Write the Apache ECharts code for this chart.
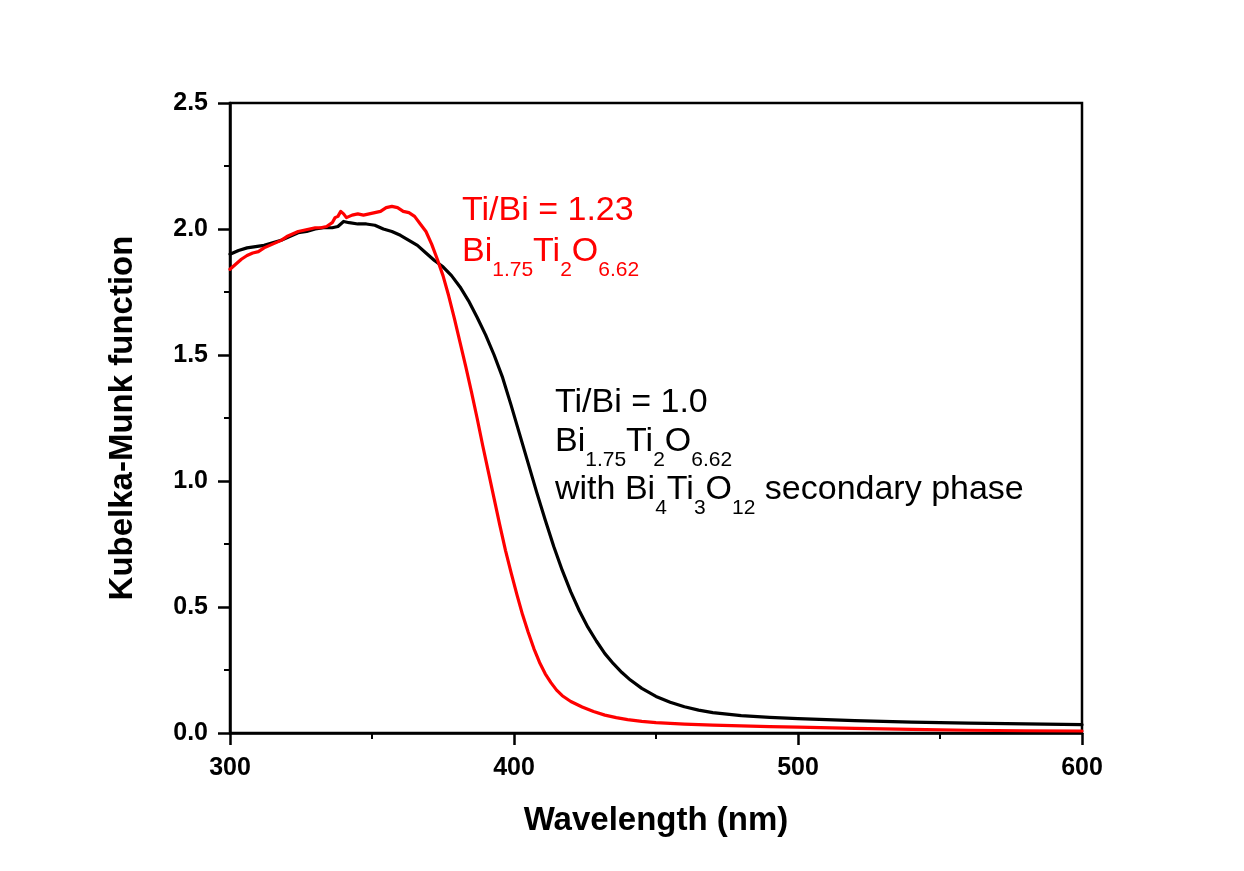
<!DOCTYPE html>
<html>
<head>
<meta charset="utf-8">
<script src="https://cdn.jsdelivr.net/npm/echarts@6/dist/echarts.min.js"></script>
<style>
html,body{margin:0;padding:0;background:#fff;}
#chart{width:1244px;height:871px;}
</style>
</head>
<body>
<div id="chart"></div>
<script>
// Wavelength (nm), Kubelka-Munk value pairs
const blackWavelength = [300,303,306,309,312,315,318,321,324,327,330,333,336,338,340,342,345,348,351,354,357,360,363,366,369,372,375,378,381,384,387,390,393,396,399,402,405,408,411,414,417,420,423,426,429,432,435,438,441,445,450,455,460,465,470,480,490,500,520,540,560,580,600];
const blackKM = [1.90,1.915,1.925,1.93,1.935,1.945,1.955,1.97,1.985,1.99,2.00,2.005,2.005,2.01,2.03,2.025,2.02,2.02,2.015,2.00,1.99,1.975,1.955,1.935,1.905,1.875,1.85,1.815,1.77,1.715,1.65,1.58,1.50,1.41,1.30,1.185,1.07,0.955,0.845,0.74,0.645,0.56,0.485,0.42,0.365,0.315,0.275,0.24,0.21,0.177,0.145,0.122,0.104,0.091,0.081,0.069,0.062,0.057,0.049,0.043,0.039,0.036,0.033];

const redWavelength = [300,302,304,306,308,310,312,314,316,318,320,322,324,326,328,330,332,334,336,337,338,339,340,341,343,345,347,349,351,353,355,357,359,361,363,365,367,369,371,373,375,377,379,381,383,385,387,389,391,393,395,397,399,401,403,405,407,409,411,413,415,417,420,424,428,432,436,440,445,450,460,470,480,490,500,520,540,560,580,600];
const redKM = [1.84,1.86,1.88,1.895,1.905,1.91,1.925,1.935,1.945,1.955,1.97,1.98,1.99,1.995,2.00,2.005,2.005,2.01,2.025,2.045,2.05,2.07,2.06,2.045,2.055,2.06,2.055,2.06,2.065,2.07,2.085,2.09,2.085,2.07,2.065,2.05,2.02,1.99,1.94,1.88,1.815,1.735,1.645,1.55,1.455,1.355,1.25,1.14,1.035,0.93,0.825,0.725,0.635,0.55,0.47,0.40,0.335,0.28,0.235,0.20,0.17,0.148,0.125,0.103,0.085,0.071,0.061,0.053,0.046,0.041,0.035,0.031,0.028,0.025,0.023,0.018,0.014,0.011,0.009,0.008];

const xTickLabels = ['300','400','500','600'];
const yTickLabels = ['0.0','0.5','1.0','1.5','2.0','2.5'];

const xTitle = 'Wavelength (nm)';
const yTitle = 'Kubelka-Munk function';

const FONT = 'Arial, "Liberation Sans", sans-serif';

function pairs(xs, ys){ return xs.map((x,i)=>[x, ys[i]]); }

const chart = echarts.init(document.getElementById('chart'), null, {renderer:'canvas'});

const axisCommon = {
  axisLine:{show:true, lineStyle:{color:'#000', width:2.5}},
  axisTick:{show:true, inside:false, length:12, lineStyle:{color:'#000', width:2.5}},
  minorTick:{show:true, splitNumber:2, length:6, lineStyle:{color:'#000', width:2}},
  splitLine:{show:false},
  minorSplitLine:{show:false}
};

const richBase = (color) => ({
  n:{fontSize:34, fontFamily:FONT, fill:color, color:color, lineHeight:40},
  s:{fontSize:21, fontFamily:FONT, fill:color, color:color, lineHeight:20, padding:[38,0,0,0]}
});

chart.setOption({
  animation:false,
  backgroundColor:'#fff',
  grid:{left:230, right:162, top:103, bottom:138, show:true, borderColor:'#000', borderWidth:2.5, backgroundColor:'transparent'},
  xAxis:Object.assign({
    type:'value', min:300, max:600, interval:100,
    name:xTitle, nameLocation:'middle', nameGap:71,
    nameTextStyle:{fontSize:33, fontWeight:'bold', fontFamily:FONT, color:'#000'},
    axisLabel:{fontSize:25, fontWeight:'bold', fontFamily:FONT, color:'#000', margin:23,
      formatter:(v)=>{const i=xTickLabels.indexOf(String(v)); return i>=0?xTickLabels[i]:'';}}
  }, axisCommon),
  yAxis:Object.assign({
    type:'value', min:0, max:2.5, interval:0.5,
    name:yTitle, nameLocation:'middle', nameGap:91,
    nameTextStyle:{fontSize:33, fontWeight:'bold', fontFamily:FONT, color:'#000'},
    axisLabel:{fontSize:25, fontWeight:'bold', fontFamily:FONT, color:'#000', margin:22,
      formatter:(v)=>yTickLabels[Math.round(v/0.5)]}
  }, axisCommon),
  series:[
    {type:'line', name:'Ti/Bi = 1.0', data:pairs(blackWavelength, blackKM), showSymbol:false, smooth:false,
     lineStyle:{color:'#000', width:3.2, join:'round', cap:'round'}, itemStyle:{color:'#000'}},
    {type:'line', name:'Ti/Bi = 1.23', data:pairs(redWavelength, redKM), showSymbol:false, smooth:false,
     lineStyle:{color:'#ff0000', width:3.2, join:'round', cap:'round'}, itemStyle:{color:'#ff0000'}}
  ],
  graphic:[
    {type:'text', left:462, top:194, style:{text:'{n|Ti/Bi = 1.23}', fill:'#ff0000', rich:richBase('#ff0000')}},
    {type:'text', left:462, top:222, style:{text:'{n|Bi}{s|1.75}{n|Ti}{s|2}{n|O}{s|6.62}', fill:'#ff0000', rich:richBase('#ff0000')}},
    {type:'text', left:555, top:386, style:{text:'{n|Ti/Bi = 1.0}', fill:'#000', rich:richBase('#000')}},
    {type:'text', left:555, top:412, style:{text:'{n|Bi}{s|1.75}{n|Ti}{s|2}{n|O}{s|6.62}', fill:'#000', rich:richBase('#000')}},
    {type:'text', left:555, top:460, style:{text:'{n|with Bi}{s|4}{n|Ti}{s|3}{n|O}{s|12}{n| secondary phase}', fill:'#000', rich:richBase('#000')}}
  ]
});
</script>
</body>
</html>
